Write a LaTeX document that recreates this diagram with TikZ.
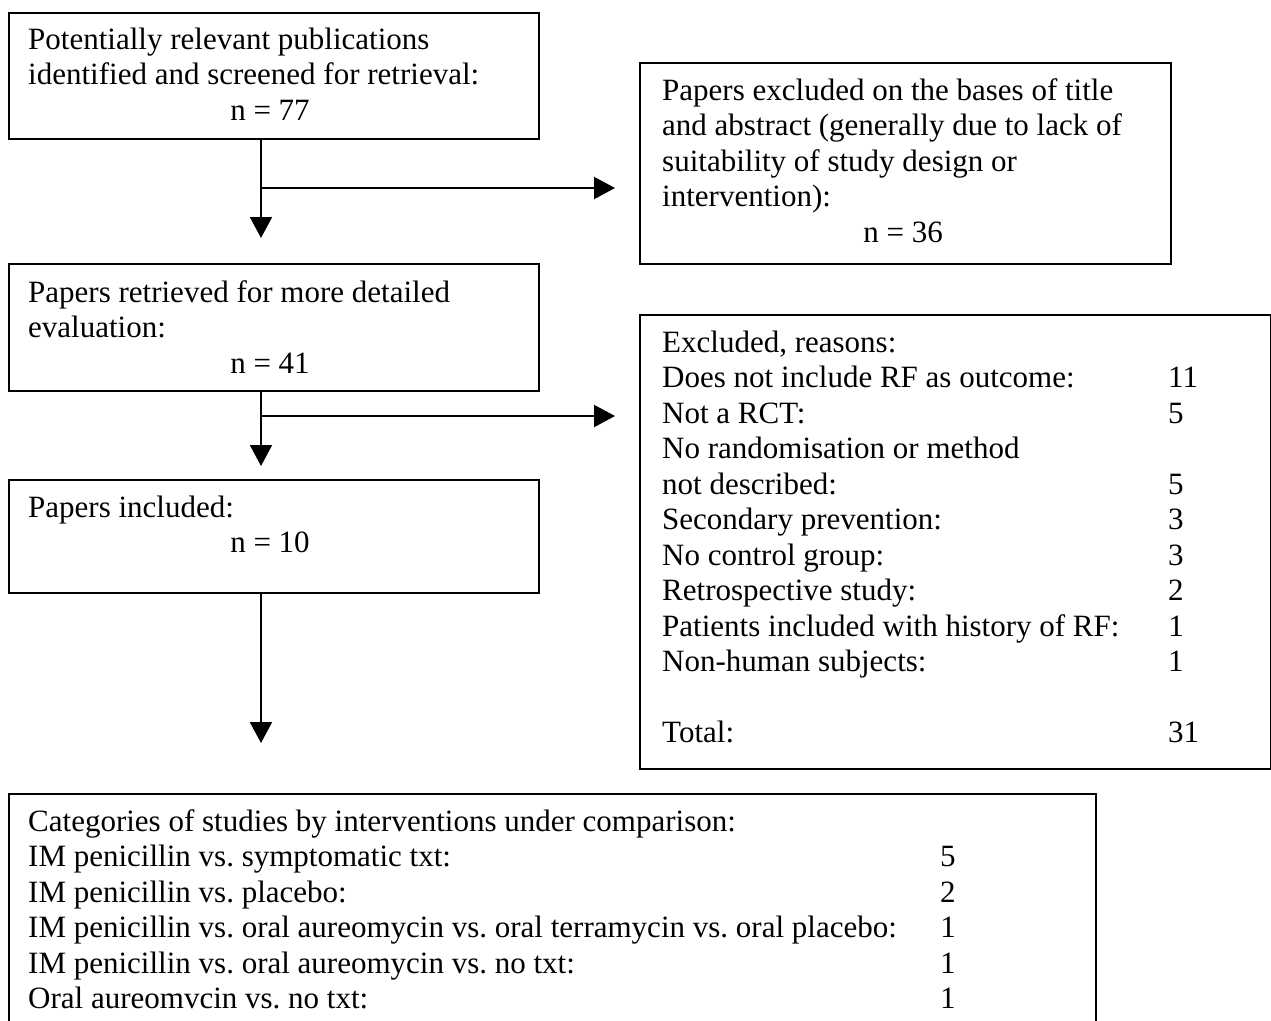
\documentclass[tikz,border=0pt]{standalone}
\usepackage{fontspec}
\setmainfont{Liberation Serif}
\usetikzlibrary{arrows.meta}
\frenchspacing
\begin{document}
\begin{tikzpicture}[x=1pt,y=-1pt,
  box/.style={draw,line width=2.2pt,inner sep=0pt,anchor=north west},
  txt/.style={inner sep=0pt,anchor=base west,font=\fontsize{31}{35.5}\selectfont},
  ctr/.style={inner sep=0pt,anchor=base,font=\fontsize{31}{35.5}\selectfont},
  arr/.style={line width=2pt,-{Triangle[width=22pt,length=21pt]}}]
\useasboundingbox (0,0) rectangle (1271,1020);
\clip (0,0) rectangle (1271,1020);
% boxes
\node[box,minimum width=530pt,minimum height=126pt] (b1) at (8,12) {};
\node[box,minimum width=531pt,minimum height=201pt] (r1) at (639,62) {};
\node[box,minimum width=530pt,minimum height=127pt] (b2) at (8,263) {};
\node[box,minimum width=631pt,minimum height=454pt] (r2) at (639,314) {};
\node[box,minimum width=530pt,minimum height=113pt] (b3) at (8,479) {};
\node[box,minimum width=1087pt,minimum height=260pt] (b4) at (8,793) {};
% texts
\node[txt] (t1) at (28,49) {\begin{tabular}[t]{@{}l@{}}Potentially relevant publications\\identified and screened for retrieval:\end{tabular}};
\node[ctr] (n1) at (270,120) {n = 77};
\node[txt] (t2) at (662,100) {\begin{tabular}[t]{@{}l@{}}Papers excluded on the bases of title\\and abstract (generally due to lack of\\suitability of study design or\\intervention):\end{tabular}};
\node[ctr] (n2) at (903,242) {n = 36};
\node[txt] (t3) at (28,302) {\begin{tabular}[t]{@{}l@{}}Papers retrieved for more detailed\\evaluation:\end{tabular}};
\node[ctr] (n3) at (270,373) {n = 41};
\node[txt] (t4) at (662,352) {\begin{tabular}[t]{@{}p{506pt}@{}l@{}}
Excluded, reasons: & \\
Does not include RF as outcome: & 11\\
Not a RCT: & 5\\
No randomisation or method & \\
not described: & 5\\
Secondary prevention: & 3\\
No control group: & 3\\
Retrospective study: & 2\\
Patients included with history of RF: & 1\\
Non-human subjects: & 1\\
 & \\
Total: & 31
\end{tabular}};
\node[txt] (t5) at (28,517) {Papers included:};
\node[ctr] (n5) at (270,552.5) {n = 10};
\node[txt] (t6) at (28,831) {\begin{tabular}[t]{@{}p{912pt}@{}l@{}}
Categories of studies by interventions under comparison: & \\
IM penicillin vs. symptomatic txt: & 5\\
IM penicillin vs. placebo: & 2\\
IM penicillin vs. oral aureomycin vs. oral terramycin vs. oral placebo: & 1\\
IM penicillin vs. oral aureomycin vs. no txt: & 1\\
Oral aureomvcin vs. no txt: & 1
\end{tabular}};
% connectors
\coordinate (j1) at (261,188);
\coordinate (j2) at (261,416);
\draw[arr,shorten >=25pt] (b1.south -| j1) -- (b2.north -| j1);
\draw[arr,shorten >=24pt] (j1) -- (j1 -| r1.west);
\draw[arr,shorten >=13pt] (b2.south -| j2) -- (b3.north -| j2);
\draw[arr,shorten >=24pt] (j2) -- (j2 -| r2.west);
\draw[arr,shorten >=50pt] (b3.south -| j2) -- (b4.north -| j2);
\end{tikzpicture}
\end{document}
